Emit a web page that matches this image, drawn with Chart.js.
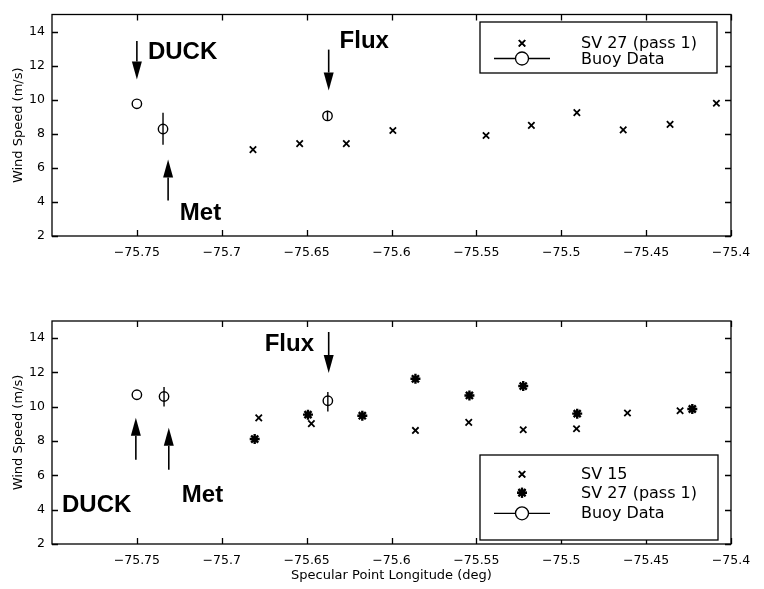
<!DOCTYPE html>
<html><head><meta charset="utf-8">
<script src="https://cdn.jsdelivr.net/npm/chart.js@4"></script>
<style>
html,body{margin:0;padding:0;background:#fff;}
#wrap{position:relative;width:764px;height:589px;background:#fff;}
#c1{position:absolute;left:0;top:0;}
#c2{position:absolute;left:0;top:290px;}
</style></head><body>
<div id="wrap">
<canvas id="c1" width="764" height="290" style="width:764px;height:290px"></canvas>
<canvas id="c2" width="764" height="299" style="width:764px;height:299px"></canvas>
</div>
<script>
// ---------- shared axis ticks ----------
const xTickValues = [-75.75, -75.7, -75.65, -75.6, -75.55, -75.5, -75.45, -75.4];
const yTickValues = [2, 4, 6, 8, 10, 12, 14];

// ---------- top panel data ----------
const topSV27Lon   = [-75.6816, -75.6541, -75.6266, -75.5992, -75.5443, -75.5176, -75.4908, -75.4635, -75.4359, -75.4086];
const topSV27Speed = [7.07, 7.42, 7.42, 8.19, 7.90, 8.49, 9.24, 8.23, 8.55, 9.79];
const topBuoyLon   = [-75.75, -75.7346, -75.6377];
const topBuoySpeed = [9.76, 8.28, 9.05];
const topBuoyLow   = [null, 7.36, 8.75];
const topBuoyHigh  = [null, 9.23, 9.35];

// ---------- bottom panel data ----------
const botSV15Lon   = [-75.6782, -75.6472, -75.5859, -75.5545, -75.5224, -75.491, -75.461, -75.43];
const botSV15Speed = [9.35, 9.02, 8.62, 9.09, 8.66, 8.72, 9.64, 9.77];
const botSV27Lon   = [-75.6806, -75.6492, -75.6172, -75.5859, -75.5541, -75.5224, -75.4906, -75.4228];
const botSV27Speed = [8.12, 9.54, 9.48, 11.63, 10.66, 11.21, 9.60, 9.87];
const botBuoyLon   = [-75.75, -75.734, -75.6375];
const botBuoySpeed = [10.70, 10.60, 10.35];
const botBuoyLow   = [null, 10.01, 9.73];
const botBuoyHigh  = [null, 11.15, 10.86];

// ---------- annotations (data coordinates) ----------
const topArrows = [
  {x: -75.75,   from: 13.45, to: 11.19},
  {x: -75.637,  from: 12.94, to: 10.54},
  {x: -75.7316, from: 4.08,  to: 6.49}
];
const topLabels = [
  {text: 'DUCK', x: -75.7435, y: 12.81},
  {text: 'Flux', x: -75.6306, y: 13.50},
  {text: 'Met',  x: -75.7247, y: 3.40}
];
const botArrows = [
  {x: -75.637,  from: 14.36, to: 11.97},
  {x: -75.7506, from: 6.91,  to: 9.36},
  {x: -75.7312, from: 6.33,  to: 8.77}
];
const botLabels = [
  {text: 'Flux', x: -75.6747, y: 13.72},
  {text: 'DUCK', x: -75.7941, y: 4.29},
  {text: 'Met',  x: -75.7235, y: 4.87}
];

const toPts = (xs, ys) => xs.map((x, i) => ({x: x, y: ys[i]}));
const fmt = v => String(v).replace('-', '\u2212');

const TICK_FONT = {family: 'DejaVu Sans', size: 12.5};

// frame, inner ticks, error bars, arrows, labels, legend
const matlabPlugin = {
  id: 'matlab',
  afterDatasetsDraw(chart, args, opts) {
    const ctx = chart.ctx, a = chart.chartArea;
    const xs = chart.scales.x, ys = chart.scales.y;
    ctx.save();
    ctx.strokeStyle = '#000'; ctx.fillStyle = '#000';
    // error bars
    chart.data.datasets.forEach(ds => {
      if (!ds.errLow) return;
      ctx.lineWidth = 1.4;
      ds.data.forEach((p, i) => {
        if (ds.errLow[i] == null) return;
        const px = xs.getPixelForValue(p.x);
        ctx.beginPath();
        ctx.moveTo(px, ys.getPixelForValue(ds.errLow[i]));
        ctx.lineTo(px, ys.getPixelForValue(ds.errHigh[i]));
        ctx.stroke();
      });
    });
    // frame
    ctx.lineWidth = 1.3;
    ctx.strokeRect(a.left, a.top, a.right - a.left, a.bottom - a.top);
    // inner ticks
    const tl = 6;
    ctx.beginPath();
    xTickValues.forEach(v => {
      const px = Math.round(xs.getPixelForValue(v)) + 0.5;
      ctx.moveTo(px, a.bottom); ctx.lineTo(px, a.bottom - tl);
      ctx.moveTo(px, a.top); ctx.lineTo(px, a.top + tl);
    });
    yTickValues.forEach(v => {
      const py = Math.round(ys.getPixelForValue(v)) + 0.5;
      ctx.moveTo(a.left, py); ctx.lineTo(a.left + tl, py);
      ctx.moveTo(a.right, py); ctx.lineTo(a.right - tl, py);
    });
    ctx.stroke();
    // arrows
    (opts.arrows || []).forEach(ar => {
      const px = xs.getPixelForValue(ar.x);
      const y0 = ys.getPixelForValue(ar.from), y1 = ys.getPixelForValue(ar.to);
      const dir = y1 > y0 ? 1 : -1;
      const headLen = 18, headW = 5;
      ctx.lineWidth = 1.6;
      ctx.beginPath(); ctx.moveTo(px, y0); ctx.lineTo(px, y1 - dir * headLen); ctx.stroke();
      ctx.beginPath();
      ctx.moveTo(px, y1);
      ctx.lineTo(px - headW, y1 - dir * headLen);
      ctx.lineTo(px + headW, y1 - dir * headLen);
      ctx.closePath(); ctx.fill();
    });
    // labels
    ctx.font = 'bold 24px "Liberation Sans", Arial, sans-serif';
    ctx.textAlign = 'left'; ctx.textBaseline = 'middle';
    (opts.labels || []).forEach(l => {
      ctx.fillText(l.text, xs.getPixelForValue(l.x), ys.getPixelForValue(l.y) + 1);
    });
    // legend
    const lg = opts.legend;
    if (lg) {
      ctx.fillStyle = '#fff';
      ctx.fillRect(lg.left, lg.top, lg.right - lg.left, lg.bottom - lg.top);
      ctx.fillStyle = '#000';
      ctx.lineWidth = 1.3;
      ctx.strokeRect(lg.left, lg.top, lg.right - lg.left, lg.bottom - lg.top);
      ctx.font = '16px "DejaVu Sans", sans-serif';
      ctx.textBaseline = 'middle';
      chart.data.datasets.forEach((ds, i) => {
        const y = lg.rows[i];
        if (ds.errLow) {
          ctx.lineWidth = 1.3;
          ctx.beginPath(); ctx.moveTo(lg.markerX - 28, y); ctx.lineTo(lg.markerX + 28, y); ctx.stroke();
          ctx.fillStyle = '#fff';
          ctx.beginPath(); ctx.arc(lg.markerX, y, 6.5, 0, Math.PI * 2); ctx.fill(); ctx.stroke();
          ctx.fillStyle = '#000';
        } else {
          Chart.helpers.drawPoint(ctx, {pointStyle: ds.pointStyle, radius: ds.pointRadius, borderWidth: ds.borderWidth}, lg.markerX, y);
          ctx.lineWidth = ds.borderWidth;
          ctx.stroke();
        }
        ctx.fillStyle = '#000';
        ctx.fillText(ds.label, lg.textX, y + 1);
      });
    }
    ctx.restore();
  }
};

function scalesCfg(xHeight, showXTitle) {
  return {
    x: {
      type: 'linear', min: -75.8, max: -75.4,
      afterBuildTicks: s => { s.ticks = xTickValues.map(v => ({value: v})); },
      afterFit: s => { s.height = xHeight; },
      grid: {display: true, drawOnChartArea: false, drawTicks: false},
      border: {display: false},
      ticks: {color: '#000', font: TICK_FONT, padding: 9, maxRotation: 0, autoSkip: false, callback: v => fmt(v)},
      title: {display: showXTitle, text: 'Specular Point Longitude (deg)', color: '#000',
              font: {family: 'DejaVu Sans', size: 13}, padding: {top: 0, bottom: 6}}
    },
    y: {
      type: 'linear', min: 2, max: 15,
      afterBuildTicks: s => { s.ticks = yTickValues.map(v => ({value: v})); },
      afterFit: s => { s.width = 52; },
      grid: {display: true, drawOnChartArea: false, drawTicks: false},
      border: {display: false},
      ticks: {color: '#000', font: TICK_FONT, padding: 7, autoSkip: false, callback: v => String(v)},
      title: {display: true, text: 'Wind Speed (m/s)', color: '#000',
              font: {family: 'DejaVu Sans', size: 13}, padding: {top: 10.5, bottom: 0}}
    }
  };
}

const sv27TopDs = {label: 'SV 27 (pass 1)', data: toPts(topSV27Lon, topSV27Speed), pointStyle: 'crossRot', pointRadius: 4.5, borderWidth: 1.8, borderColor: '#000', backgroundColor: '#000', showLine: false};
const buoyTopDs = {label: 'Buoy Data', data: toPts(topBuoyLon, topBuoySpeed), errLow: topBuoyLow, errHigh: topBuoyHigh, pointStyle: 'circle', pointRadius: 4.7, borderWidth: 1.4, borderColor: '#000', backgroundColor: 'rgba(0,0,0,0)', showLine: false};

new Chart(document.getElementById('c1'), {
  type: 'scatter',
  data: {datasets: [sv27TopDs, buoyTopDs]},
  options: {
    responsive: false, animation: false, devicePixelRatio: 1,
    layout: {padding: {top: 11, right: 33, left: 0, bottom: 0}},
    plugins: {
      legend: {display: false}, tooltip: {enabled: false},
      matlab: {arrows: topArrows, labels: topLabels,
        legend: {left: 480, top: 22, right: 717, bottom: 73, rows: [43.3, 58.5], markerX: 522, textX: 581}}
    },
    scales: scalesCfg(290 - 236, false)
  },
  plugins: [matlabPlugin]
});

const sv15BotDs = {label: 'SV 15', data: toPts(botSV15Lon, botSV15Speed), pointStyle: 'crossRot', pointRadius: 4.5, borderWidth: 1.8, borderColor: '#000', backgroundColor: '#000', showLine: false};
const sv27BotDs = {label: 'SV 27 (pass 1)', data: toPts(botSV27Lon, botSV27Speed), pointStyle: 'star', pointRadius: 5, borderWidth: 2.4, borderColor: '#000', backgroundColor: '#000', showLine: false};
const buoyBotDs = {label: 'Buoy Data', data: toPts(botBuoyLon, botBuoySpeed), errLow: botBuoyLow, errHigh: botBuoyHigh, pointStyle: 'circle', pointRadius: 4.7, borderWidth: 1.4, borderColor: '#000', backgroundColor: 'rgba(0,0,0,0)', showLine: false};

new Chart(document.getElementById('c2'), {
  type: 'scatter',
  data: {datasets: [sv15BotDs, sv27BotDs, buoyBotDs]},
  options: {
    responsive: false, animation: false, devicePixelRatio: 1,
    layout: {padding: {top: 31, right: 33, left: 0, bottom: 0}},
    plugins: {
      legend: {display: false}, tooltip: {enabled: false},
      matlab: {arrows: botArrows, labels: botLabels,
        legend: {left: 480, top: 455 - 290, right: 718, bottom: 540 - 290, rows: [474.3 - 290, 492.7 - 290, 513.3 - 290], markerX: 522, textX: 581}}
    },
    scales: scalesCfg(299 - 254, true)
  },
  plugins: [matlabPlugin]
});
</script>
</body></html>
